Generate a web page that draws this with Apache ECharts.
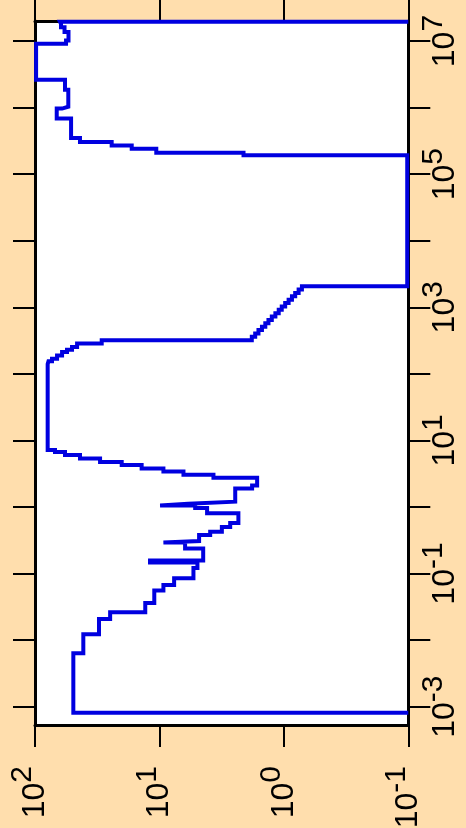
<!DOCTYPE html>
<html><head><meta charset="utf-8">
<script src="https://cdn.jsdelivr.net/npm/echarts@6/dist/echarts.min.js"></script>
<style>html,body{margin:0;padding:0;background:#FFDEAD;}#c{width:466px;height:828px;}</style>
</head><body><div id="c"></div>
<script>
// Energy bin edges (vertical log axis), bottom to top
const energyEdges = [
  8.13e-4, 6.34e-3, 1.22e-2, 2.07e-2, 2.61e-2, 3.60e-2, 5.56e-2, 6.71e-2, 8.47e-2, 0.121,
  0.146, 0.157, 0.237, 0.292, 0.308, 0.378, 0.424, 0.499, 0.573, 0.802,
  0.962, 1.05, 1.12, 1.20, 1.89, 2.10, 2.74, 3.06, 3.40, 3.78,
  4.26, 4.72, 5.33, 6.02, 6.67, 7.15, 140, 155, 169, 188,
  212, 231, 252, 286, 321, 361, 405, 455, 512, 575,
  646, 725, 815, 916, 1030, 1156, 1300, 1462, 1641, 1843,
  2074, 1.92e5, 2.10e5, 2.41e5, 2.69e5, 3.04e5, 3.50e5, 6.84e5, 9.66e5, 1.03e6,
  1.85e6, 2.63e6, 9.14e6, 1.02e7, 1.37e7, 1.61e7, 1.81e7, 1.95e7
];
// Value in each bin (horizontal reversed log axis)
const fluxValues = [
  49.2, 40.9, 30.6, 24.9, 13.0, 11.0, 9.29, 7.62, 5.33, 4.95,
  11.9, 4.45, 6.22, 9.29, 4.80, 3.91, 3.15, 2.70, 2.32, 4.14,
  5.16, 9.88, 5.88, 2.46, 1.80, 1.64, 3.68, 6.41, 9.29, 13.9,
  20.1, 30.0, 43.5, 57.4, 69.1, 79.1, 77.9, 73.0, 66.5, 60.6,
  55.3, 50.4, 45.9, 29.1, 1.81, 1.70, 1.60, 1.50, 1.41, 1.33,
  1.25, 1.17, 1.10, 1.04, 0.976, 0.916, 0.861, 0.811, 0.761, 0.716,
  0.102, 2.11, 10.6, 16.7, 24.2, 43.5, 51.3, 66.9, 60.6, 54.0,
  57.4, 98, 56.3, 53.8, 57.9, 61.8, 63.0
];
const baseValue = 0.1;
const fluxRange = [0.1, 100];
const energyRange = [5.3e-4, 2e7];
const fluxTicks = [0.1, 1, 10, 100];
const energyTicks = [1e-3, 1e-2, 1e-1, 1, 10, 100, 1e3, 1e4, 1e5, 1e6, 1e7];
const energyLabels = [1e-3, 1e-1, 10, 1e3, 1e5, 1e7];

const path = [[baseValue, energyEdges[0]]];
for (let i = 0; i < fluxValues.length; i++) {
  path.push([fluxValues[i], energyEdges[i]]);
  path.push([fluxValues[i], energyEdges[i + 1]]);
}
path.push([baseValue, energyEdges[energyEdges.length - 1]]);

const FONT = 'Liberation Sans, Arial, sans-serif';
const rich = {
  b: { fontSize: 32, lineHeight: 32, fontFamily: FONT, color: '#000' },
  s: { fontSize: 30, lineHeight: 30, fontFamily: FONT, color: '#000', padding: [0, 0, 24, 0] }
};
function powLabel(v) {
  const e = Math.round(Math.log10(v));
  return '{b|10}{s|' + e + '}';
}
const lineBlack = { color: '#000', width: 3 };
const tickStyle = { show: true, inside: false, length: 22, lineStyle: { color: '#000', width: 2 } };

function xAx(pos, showLabel) {
  return {
    type: 'log', position: pos, inverse: true, min: fluxRange[0], max: fluxRange[1],
    axisLine: { show: true, onZero: false, lineStyle: lineBlack },
    axisTick: Object.assign({}, tickStyle, { customValues: fluxTicks }),
    axisLabel: { show: showLabel, customValues: fluxTicks, rotate: 90, margin: 41, formatter: powLabel, rich: rich },
    splitLine: { show: false }, minorTick: { show: false }
  };
}
function yAx(pos, showLabel) {
  return {
    type: 'log', position: pos, min: energyRange[0], max: energyRange[1],
    axisLine: { show: true, onZero: false, lineStyle: lineBlack },
    axisTick: Object.assign({}, tickStyle, { customValues: energyTicks }),
    axisLabel: { show: showLabel, customValues: energyLabels, rotate: 90, margin: 21, formatter: powLabel, rich: rich },
    splitLine: { show: false }, minorTick: { show: false }
  };
}

const chart = echarts.init(document.getElementById('c'), null, { renderer: 'canvas' });
chart.setOption({
  animation: false,
  backgroundColor: '#FFDEAD',
  grid: { left: 35, right: 57.7, top: 21, bottom: 103, show: true, backgroundColor: '#FFFFFF', borderWidth: 0, containLabel: false, outerBoundsMode: 'none' },
  xAxis: [xAx('bottom', true), xAx('top', false)],
  yAxis: [yAx('right', true), yAx('left', false)],
  series: [{
    type: 'line', xAxisIndex: 0, yAxisIndex: 0, data: path,
    showSymbol: false, symbol: 'none', clip: true,
    lineStyle: { color: '#0000E0', width: 4, join: 'miter', cap: 'butt' }
  }]
});
</script></body></html>
